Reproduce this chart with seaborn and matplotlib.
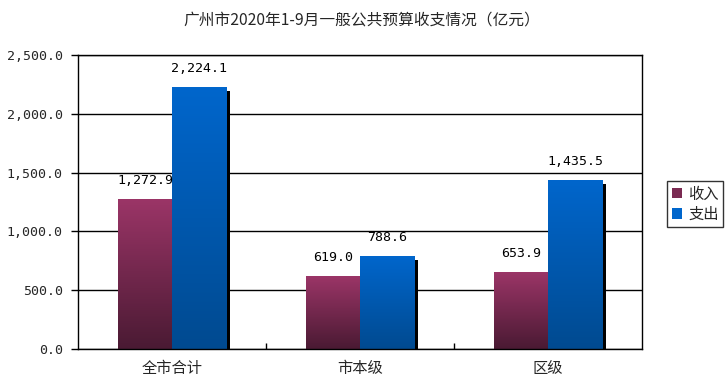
import numpy as np
import pandas as pd
import matplotlib
matplotlib.use("Agg")
import matplotlib.pyplot as plt
import matplotlib.transforms as mtransforms
from matplotlib.colors import LinearSegmentedColormap
from matplotlib.patches import Rectangle, Patch
import seaborn as sns

categories = ["全市合计", "市本级", "区级"]
series_names = ["收入", "支出"]
income = [1272.9, 619.0, 653.9]
expense = [2224.1, 788.6, 1435.5]
yticks = [0, 500, 1000, 1500, 2000, 2500]

title = "广州市2020年1-9月一般公共预算收支情况（亿元）"

df = pd.DataFrame({
    "cat": categories * 2,
    "series": [series_names[0]] * 3 + [series_names[1]] * 3,
    "value": income + expense,
})

sns.set_style("white")
plt.rcParams["font.family"] = ["Noto Sans CJK SC", "DejaVu Sans"]

fig = plt.figure(figsize=(7.28, 3.92), dpi=100)
ax = fig.add_axes([78 / 728, 1 - 349 / 392, (642 - 78) / 728, (349 - 55) / 392])

top_colors = {"收入": "#9b3567", "支出": "#0066cc"}
bot_colors = {"收入": "#4a1a33", "支出": "#004a90"}

sns.barplot(data=df, x="cat", y="value", hue="series", order=categories,
            hue_order=series_names, width=0.575, ax=ax, legend=False,
            palette=top_colors, saturation=1, errorbar=None)

ax.set_xlim(-0.5, 2.5)
ax.set_ylim(0, 2500)

mono = ["DejaVu Sans Mono", "DejaVu Sans"]
shadow_tr = mtransforms.offset_copy(ax.transData, fig=fig, x=4, y=-4, units="dots")
patches = list(ax.patches)
for p, s in zip(patches, [series_names[0]] * 3 + [series_names[1]] * 3):
    x0, y0 = p.get_x(), p.get_y()
    w, h = p.get_width(), p.get_height()
    if s == series_names[1]:
        sh = Rectangle((x0, y0), w, h, transform=shadow_tr, facecolor="black",
                       edgecolor="none", zorder=1.5, clip_on=True)
        sh.set_clip_box(ax.bbox)
        ax.add_patch(sh)
    cmap = LinearSegmentedColormap.from_list("g", [bot_colors[s], top_colors[s]])
    grad = np.linspace(0, 1, 256).reshape(-1, 1)
    im = ax.imshow(grad, extent=[x0, x0 + w, 0, h], origin="lower", aspect="auto",
                   cmap=cmap, zorder=2.5)
    im.set_clip_path(p)
    p.set_facecolor("none")
    p.set_edgecolor("none")
    p.set_zorder(2.6)
    ax.annotate(f"{h:,.1f}", (x0 + w / 2, h), xytext=(0, 12), textcoords="offset pixels",
                ha="center", va="bottom", fontsize=9.5, color="black", family=mono)

ax.set_xlim(-0.5, 2.5)
ax.set_ylim(0, 2500)

ax.set_yticks(yticks)
ax.set_yticklabels([f"{v:,.1f}" for v in yticks], fontsize=9.5, family=mono)
ax.yaxis.grid(True, color="black", linewidth=1)
ax.set_axisbelow(True)
ax.tick_params(axis="y", direction="out", length=5, width=1, color="black", left=True, pad=6)

ax.set_xticks([0, 1, 2])
ax.set_xticklabels(categories, fontsize=11)
ax.tick_params(axis="x", length=0, pad=8)
ax.set_xticks([0.5, 1.5], minor=True)
ax.tick_params(axis="x", which="minor", direction="in", length=4, width=1, color="black", bottom=True)

ax.set_xlabel("")
ax.set_ylabel("")
for sp in ax.spines.values():
    sp.set_visible(True)
    sp.set_color("black")
    sp.set_linewidth(1)

handles = [Patch(facecolor="#7a2a52", edgecolor="none", label=series_names[0]),
           Patch(facecolor="#0066cc", edgecolor="none", label=series_names[1])]
leg = fig.legend(handles=handles, loc="center left", bbox_to_anchor=(667 / 728, 1 - 204 / 392),
                 frameon=True, fontsize=11, handlelength=0.7, handleheight=0.7,
                 handletextpad=0.4, borderpad=0.3, labelspacing=0.2, fancybox=False,
                 borderaxespad=0)
leg.get_frame().set_edgecolor("black")
leg.get_frame().set_linewidth(1)

fig.text(362 / 728, 1 - 20 / 392, title, ha="center", va="center", fontsize=11.3)

fig.savefig("out.png", dpi=100)
